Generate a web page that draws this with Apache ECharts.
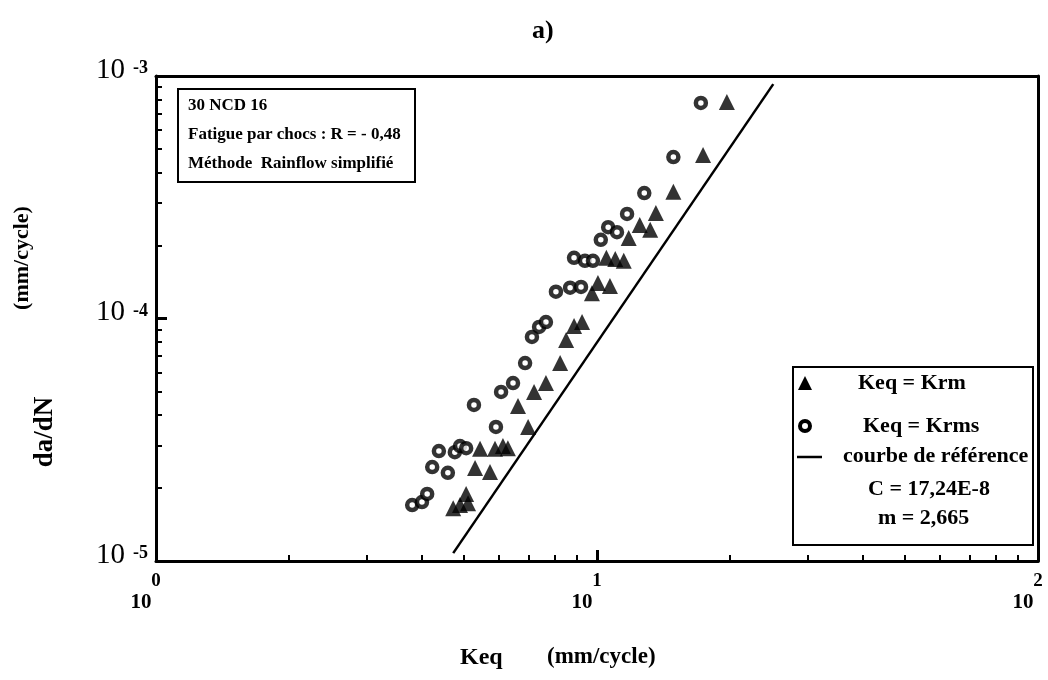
<!DOCTYPE html>
<html>
<head>
<meta charset="utf-8">
<script src="https://cdn.jsdelivr.net/npm/echarts@6/dist/echarts.min.js"></script>
<style>
  html, body { margin: 0; padding: 0; background: #fff; }
  #chart { width: 1048px; height: 680px; }
</style>
</head>
<body>
<div id="chart"></div>
<script>
// Crack growth rate da/dN against equivalent stress intensity Keq (log-log)

// Keq = Krms (open circles)
const krmsKeq  = [3.81, 4.01, 4.12, 4.23, 4.59, 4.38, 4.76, 4.89, 5.05, 5.90, 5.26, 6.06, 6.45, 6.87,
                  7.12, 7.39, 7.66, 8.07, 8.69, 9.20, 8.87, 9.39, 9.79, 10.2, 10.6, 11.1, 11.7, 12.8, 14.9, 17.2];
const krmsDadN = [1.70e-5, 1.75e-5, 1.89e-5, 2.44e-5, 2.31e-5, 2.84e-5, 2.81e-5, 2.98e-5, 2.92e-5, 3.57e-5,
                  4.40e-5, 4.98e-5, 5.42e-5, 6.55e-5, 8.39e-5, 9.23e-5, 9.67e-5, 1.29e-4, 1.34e-4, 1.35e-4,
                  1.78e-4, 1.73e-4, 1.73e-4, 2.11e-4, 2.38e-4, 2.27e-4, 2.70e-4, 3.29e-4, 4.63e-4, 7.74e-4];

// Keq = Krm (filled triangles)
const krmKeq   = [4.72, 4.89, 5.05, 5.10, 5.29, 5.72, 5.43, 5.87, 6.12, 6.28, 6.98, 6.62, 7.20, 7.66, 8.25,
                  8.51, 8.87, 9.25, 9.74, 10.05, 10.7, 10.5, 11.0, 11.5, 11.8, 12.5, 13.2, 13.6, 14.9, 17.4, 19.7];
const krmDadN  = [1.65e-5, 1.70e-5, 1.89e-5, 1.73e-5, 2.42e-5, 2.33e-5, 2.90e-5, 2.90e-5, 2.98e-5, 2.92e-5,
                  3.57e-5, 4.36e-5, 4.98e-5, 5.42e-5, 6.55e-5, 8.15e-5, 9.31e-5, 9.67e-5, 1.27e-4, 1.40e-4,
                  1.36e-4, 1.78e-4, 1.76e-4, 1.73e-4, 2.15e-4, 2.43e-4, 2.32e-4, 2.72e-4, 3.33e-4, 4.72e-4, 7.81e-4];

// Reference Paris law da/dN = C * Keq^m, drawn over this Keq range
const refC = 17.24e-8;
const refM = 2.665;
const refKeq = [4.72, 25.1];

// Decade ticks and their exponents
const xTickValues = [1, 10, 100];
const xTickExp    = ['0', '1', '2'];
const yTickValues = [1e-5, 1e-4, 1e-3];
const yTickExp    = ['-5', '-4', '-3'];

const boxLines = ['30 NCD 16', 'Fatigue par chocs : R = - 0,48', 'Méthode  Rainflow simplifié'];
const legendLabels = ['Keq = Krm', 'Keq = Krms', 'courbe de référence', 'C = 17,24E-8', 'm = 2,665'];

const SERIF = '"Liberation Serif", "Times New Roman", serif';
const INK = '#000';

function pair(xs, ys) { return xs.map((x, i) => [x, ys[i]]); }
function expOf(v, values, labels) {
  const i = values.findIndex(t => Math.abs(Math.log10(t) - Math.log10(v)) < 1e-6);
  return i < 0 ? '' : labels[i];
}

function logAxis(min, max, withTicks, extra) {
  return Object.assign({
    type: 'log', logBase: 10, min: min, max: max,
    axisLine: { show: true, onZero: false, lineStyle: { color: INK, width: 3 } },
    axisTick: { show: withTicks, inside: true, length: 11, lineStyle: { color: INK, width: 3 } },
    minorTick: { show: withTicks, splitNumber: 9, length: 6, lineStyle: { color: INK, width: 2 } },
    splitLine: { show: false },
    minorSplitLine: { show: false }
  }, extra);
}

const chart = echarts.init(document.getElementById('chart'));

const option = {
  backgroundColor: '#fff',
  animation: false,
  grid: { left: 156, right: 10, top: 76, bottom: 119, containLabel: false, outerBoundsMode: 'none' },
  xAxis: [
    logAxis(1, 100, true, {
      position: 'bottom',
      axisLabel: {
        show: true, margin: 10, showMinLabel: true, showMaxLabel: true,
        formatter: v => '{e|' + expOf(v, xTickValues, xTickExp) + '}\n{b|10}',
        rich: {
          e: { fontFamily: SERIF, fontSize: 19, fontWeight: 'bold', color: INK, lineHeight: 20 },
          b: { fontFamily: SERIF, fontSize: 21, fontWeight: 'bold', color: INK, lineHeight: 24, padding: [0, 30, 0, 0] }
        }
      }
    }),
    logAxis(1, 100, false, { position: 'top', axisLabel: { show: false } })
  ],
  yAxis: [
    logAxis(1e-5, 1e-3, true, {
      position: 'left',
      axisLabel: {
        show: true, margin: 8, showMinLabel: true, showMaxLabel: true,
        formatter: v => '{b|10}{e|' + expOf(v, yTickValues, yTickExp) + '}',
        rich: {
          b: { fontFamily: SERIF, fontSize: 29, color: INK, padding: [0, 0, 12, 0] },
          e: { fontFamily: SERIF, fontSize: 18, fontWeight: 'bold', color: INK, verticalAlign: 'top', padding: [4, 0, 0, 8] }
        }
      }
    }),
    logAxis(1e-5, 1e-3, false, { position: 'right', axisLabel: { show: false } })
  ],
  series: [
    {
      name: legendLabels[2], type: 'line', xAxisIndex: 0, yAxisIndex: 0,
      data: refKeq.map(k => [k, refC * Math.pow(k, refM)]),
      symbol: 'none', lineStyle: { color: INK, width: 2.5 }, z: 2
    },
    {
      name: legendLabels[0], type: 'scatter', xAxisIndex: 0, yAxisIndex: 0,
      data: pair(krmKeq, krmDadN),
      symbol: 'triangle', symbolSize: 16,
      itemStyle: { color: INK }, z: 3
    },
    {
      name: legendLabels[1], type: 'scatter', xAxisIndex: 0, yAxisIndex: 0,
      data: pair(krmsKeq, krmsDadN),
      symbol: 'circle', symbolSize: 10,
      itemStyle: { color: '#fff', borderColor: INK, borderWidth: 4.5 }, z: 4
    }
  ],
  graphic: [
    // panel letter
    { type: 'text', left: 532, top: 18, style: { text: 'a)', font: 'bold 26px ' + SERIF, fill: INK } },
    // axis titles
    { type: 'text', left: 460, top: 646, style: { text: 'Keq', font: 'bold 24px ' + SERIF, fill: INK } },
    { type: 'text', left: 547, top: 646, style: { text: '(mm/cycle)', font: 'bold 23px ' + SERIF, fill: INK } },
    { type: 'text', x: 45, y: 432, rotation: Math.PI / 2,
      style: { text: 'da/dN', font: 'bold 27px ' + SERIF, fill: INK, align: 'center', verticalAlign: 'middle' } },
    { type: 'text', x: 22, y: 258, rotation: Math.PI / 2,
      style: { text: '(mm/cycle)', font: 'bold 22px ' + SERIF, fill: INK, align: 'center', verticalAlign: 'middle' } },
    // material / test box
    { type: 'rect', shape: { x: 178, y: 89, width: 237, height: 93 },
      style: { fill: '#fff', stroke: INK, lineWidth: 2 }, z: 10 },
    { type: 'text', x: 188, y: 106, z: 11, style: { text: boxLines[0], font: 'bold 17px ' + SERIF, fill: INK, verticalAlign: 'middle' } },
    { type: 'text', x: 188, y: 135, z: 11, style: { text: boxLines[1], font: 'bold 17px ' + SERIF, fill: INK, verticalAlign: 'middle' } },
    { type: 'text', x: 188, y: 164, z: 11, style: { text: boxLines[2], font: 'bold 17px ' + SERIF, fill: INK, verticalAlign: 'middle' } },
    // key box
    { type: 'rect', shape: { x: 793, y: 367, width: 240, height: 178 },
      style: { fill: '#fff', stroke: INK, lineWidth: 2 }, z: 10 },
    { type: 'polygon', z: 11, shape: { points: [[805, 376], [812, 390], [798, 390]] }, style: { fill: INK } },
    { type: 'text', x: 858, y: 383, z: 11, style: { text: legendLabels[0], font: 'bold 22px ' + SERIF, fill: INK, verticalAlign: 'middle' } },
    { type: 'circle', z: 11, shape: { cx: 805, cy: 426, r: 5 }, style: { fill: '#fff', stroke: INK, lineWidth: 4 } },
    { type: 'text', x: 863, y: 426, z: 11, style: { text: legendLabels[1], font: 'bold 22px ' + SERIF, fill: INK, verticalAlign: 'middle' } },
    { type: 'line', z: 11, shape: { x1: 797, y1: 457, x2: 822, y2: 457 }, style: { stroke: INK, lineWidth: 2.5 } },
    { type: 'text', x: 843, y: 456, z: 11, style: { text: legendLabels[2], font: 'bold 22px ' + SERIF, fill: INK, verticalAlign: 'middle' } },
    { type: 'text', x: 868, y: 489, z: 11, style: { text: legendLabels[3], font: 'bold 22px ' + SERIF, fill: INK, verticalAlign: 'middle' } },
    { type: 'text', x: 878, y: 518, z: 11, style: { text: legendLabels[4], font: 'bold 22px ' + SERIF, fill: INK, verticalAlign: 'middle' } }
  ]
};

chart.setOption(option);
</script>
</body>
</html>
